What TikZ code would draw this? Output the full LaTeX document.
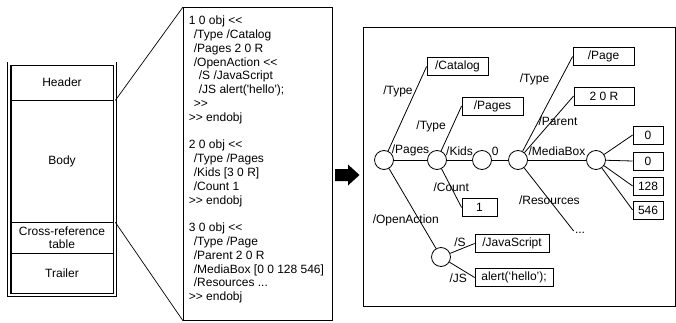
\documentclass[tikz,border=0pt]{standalone}
\usepackage{fontspec}
\setmainfont{Liberation Sans}[Ligatures=TeXOff]

\begin{document}
\begin{tikzpicture}[x=1pt,y=-1pt,line width=0.8pt,
    font=\fontsize{12}{13.8}\selectfont,
    part/.style={draw,rectangle,line width=0.7pt,minimum width=102pt,inner sep=0pt,align=center},
    obj/.style={draw,circle,minimum size=19pt,inner sep=0pt},
    val/.style={draw,rectangle,minimum height=18pt,inner sep=1pt}]

  \useasboundingbox (0,0) rectangle (676,323);

  % file layout
  \node[draw,double,double distance=2.2pt,line width=0.7pt,minimum width=106pt,
        minimum height=231.5pt,inner sep=0pt] (file) at (62,179.25) {};
  \node[part,minimum height=35pt] (header) at (62,82.5) {Header};
  \node[part,minimum height=122pt] (body) at (62,161) {Body};
  \node[part,minimum height=31pt,font=\fontsize{12}{12.6}\selectfont] (xref) at (62,237.5) {Cross-reference\\table};
  \node[part,minimum height=40pt] (trailer) at (62,273) {Trailer};

  % body listing
  \node[draw,minimum width=149pt,minimum height=313pt,anchor=north west,inner sep=0pt] (code) at (183,7) {};
  \node[anchor=north west,inner sep=0pt,align=left] (listing) at ([shift={(5.5,8.6)}]code.north west) {1 0 obj <<\\
    \hspace*{5pt}/Type /Catalog\\
    \hspace*{5pt}/Pages 2 0 R\\
    \hspace*{5pt}/OpenAction <<\\
    \hspace*{10pt}/S /JavaScript\\
    \hspace*{10pt}/JS alert('hello');\\
    \hspace*{5pt}>>\\
    >> endobj\\[13.8pt]
    2 0 obj <<\\
    \hspace*{5pt}/Type /Pages\\
    \hspace*{5pt}/Kids [3 0 R]\\
    \hspace*{5pt}/Count 1\\
    >> endobj\\[13.8pt]
    3 0 obj <<\\
    \hspace*{5pt}/Type /Page\\
    \hspace*{5pt}/Parent 2 0 R\\
    \hspace*{5pt}/MediaBox [0 0 128 546]\\
    \hspace*{5pt}/Resources ...\\
    >> endobj};

  \draw[line width=0.7pt] (file.east |- header.south) -- (code.north west);
  \draw[line width=0.7pt] (file.east |- body.south) -- (code.south west);

  % big arrow
  \fill (335,169) -- (348,169) -- (348,164.5) -- (359.5,175) -- (348,185.5) -- (348,181) -- (335,181) -- cycle;

  % object tree
  \draw[line width=1pt] (363,28) rectangle (675.5,306);

  \node[obj] (root) at (384,160) {};
  \node[obj] (pages) at (437,160) {};
  \node[obj] (kid) at (482,160) {};
  \node[obj] (page) at (518,160) {};
  \node[obj] (mbox) at (596,160) {};
  \node[obj] (action) at (441,257) {};

  \node[val,minimum width=61pt] (catalog) at (457.5,66.5) {/Catalog};
  \node[val,minimum width=61pt] (pagestype) at (492.5,106) {/Pages};
  \node[val,minimum width=35pt] (count) at (479.5,207.5) {1};
  \node[val,minimum width=74pt] (script) at (512,243.5) {/JavaScript};
  \node[val,minimum width=78pt] (alert) at (514,277.5) {alert(‘hello’);};
  \node[val,minimum width=61pt] (pagetype) at (603.5,56.5) {/Page};
  \node[val,minimum width=60pt] (parent) at (604,96) {2 0 R};
  \node[val,minimum width=30pt] (mb0) at (648,135) {0};
  \node[val,minimum width=30pt] (mb1) at (648,161) {0};
  \node[val,minimum width=30pt] (mb2) at (648,186) {128};
  \node[val,minimum width=30pt] (mb3) at (648,210) {546};
  \node[inner sep=1pt] (res) at (580,233) {...};

  \path[every node/.style={inner sep=2pt}]
    (root) edge node[pos=0.7,left] {/Type} (catalog.west)
           edge node[above=2pt] {/Pages} (pages)
           edge node[pos=0.655,xshift=-14pt] {/OpenAction} (action)
    (pages) edge node[pos=0.54,left,xshift=-4pt] {/Type} (pagestype.west)
            edge node[above=2pt] {/Kids} (kid)
            edge node[pos=0.48] {/Count} (count.west)
    (kid) edge node[pos=0.2,above=2pt] {0} (page)
    (page) edge node[pos=0.76,left,xshift=-9pt] {/Type} (pagetype.west)
           edge node[pos=0.56,xshift=6pt] {/Parent} (parent.west)
           edge node[above=2pt] {/MediaBox} (mbox)
           edge node[pos=0.51] {/Resources} (res.north west)
    (mbox) edge (mb0.west)
           edge (mb1.west)
           edge (mb2.west)
           edge (mb3.west)
    (action) edge node[pos=0.4,above] {/S} (script.west)
             edge node[pos=0.35,below=4pt] {/JS} (alert.west);

\end{tikzpicture}
\end{document}
